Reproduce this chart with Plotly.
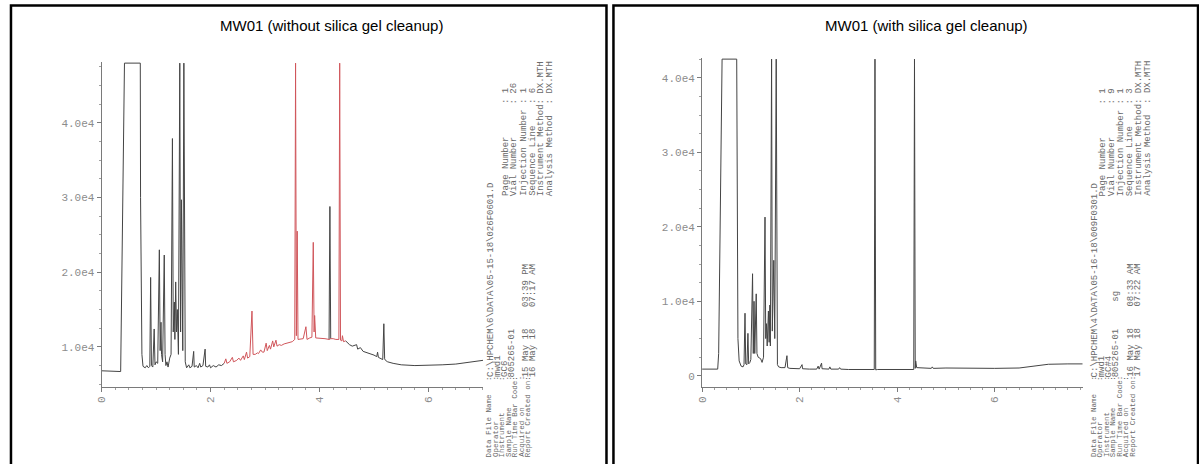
import plotly.graph_objects as go

W, H = 1199, 464

# ---------------- data ----------------
left_title = "MW01 (without silica gel cleanup)"
right_title = "MW01 (with silica gel cleanup)"

left_time = [0.00, 0.30, 0.35, 0.42, 0.71, 0.715, 0.73, 0.74, 0.76,
             0.80, 0.83, 0.86, 0.885, 0.90, 0.915, 0.94, 0.965, 0.98, 1.00, 1.03,
             1.06, 1.075, 1.09, 1.10, 1.12, 1.15, 1.165, 1.18, 1.20, 1.22, 1.25,
             1.275, 1.30, 1.315, 1.335, 1.345, 1.36, 1.375, 1.39, 1.41, 1.435,
             1.45, 1.465, 1.48, 1.49, 1.51, 1.535, 1.56, 1.60, 1.62, 1.66, 1.69,
             1.70, 1.74, 1.77, 1.80, 1.82, 1.86, 1.90, 1.91, 1.95, 1.98, 2.00,
             2.05, 2.10, 2.15, 2.20, 2.25, 2.28, 2.30, 2.35, 2.40, 2.42, 2.48,
             2.52, 2.55, 2.60, 2.62, 2.66, 2.68, 2.72, 2.76, 2.78, 2.82, 2.86,
             2.88, 2.92, 2.95, 2.98, 3.02, 3.04, 3.08, 3.10, 3.14, 3.16, 3.20,
             3.22, 3.26, 3.30, 3.35, 3.40, 3.45, 3.50, 3.545, 3.56, 3.575, 3.59,
             3.605, 3.65, 3.70, 3.75, 3.77, 3.82, 3.86, 3.885, 3.90, 3.91, 3.93,
             3.98, 4.05, 4.10, 4.175, 4.19, 4.205, 4.25, 4.30, 4.355, 4.37,
             4.385, 4.41, 4.42, 4.44, 4.48, 4.55, 4.60, 4.68, 4.70, 4.75, 4.80,
             4.90, 5.00, 5.05, 5.065, 5.08, 5.16, 5.18, 5.195, 5.21, 5.25, 5.35,
             5.50, 5.75, 6.00, 6.25, 6.50, 6.75, 7.00]
left_signal = [6800, 6650, 6700, 48000, 48000, 30000, 20000, 9000, 7400,
               7200, 7500, 7200, 7400, 19300, 7500, 7300, 12400, 7600, 8000, 7800,
               23000, 9500, 13300, 9000, 8000, 22300, 9000, 7500, 8000, 7300, 8500,
               9000, 37900, 12000, 16000, 11000, 18700, 12000, 15000, 9000, 48000,
               12000, 29700, 14000, 9500, 48000, 8000, 7200, 7600, 7200, 7400, 9400,
               7300, 7500, 7200, 7800, 7300, 7500, 9700, 7400, 7300, 7600, 7200,
               7500, 7300, 7600, 7500, 7800, 8400, 7800, 8000, 8600, 8000, 8200,
               8500, 8200, 8800, 8300, 9300, 8500, 8700, 14800, 9000, 9000, 9200,
               9100, 9600, 9300, 9300, 10500, 9500, 10200, 9700, 10800, 10000, 10900,
               10100, 10300, 10200, 10400, 10500, 10600, 10700, 11000, 48000, 11500, 25500,
               11000, 11000, 11100, 12700, 11000, 11200, 11300, 24000, 12000, 14200, 11200,
               11200, 11100, 11100, 11000, 28800, 11100, 11100, 11000, 11000, 48000,
               10900, 10800, 11500, 10700, 10800, 10300, 10100, 10300, 9700, 9900, 9400,
               9200, 8900, 8700, 9300, 8600, 8300, 13100, 8400, 8200, 8000, 7800,
               7600, 7500, 7500, 7600, 7700, 7900, 8200]
# portion of the left trace printed in red, and a peak inside it printed in black
left_red_start = 2.25
left_red_end = 4.48
left_black_peak_window = [4.175, 4.205]

right_time = [0.00, 0.32, 0.34, 0.41, 0.71, 0.72, 0.735, 0.76, 0.80, 0.84,
              0.86, 0.88, 0.895, 0.92, 0.94, 0.955, 0.98, 1.00, 1.035, 1.05,
              1.065, 1.08, 1.11, 1.125, 1.15, 1.20, 1.23, 1.26, 1.29, 1.305,
              1.32, 1.335, 1.36, 1.375, 1.39, 1.40, 1.425, 1.44, 1.47, 1.49,
              1.52, 1.545, 1.57, 1.62, 1.70, 1.74, 1.755, 1.80, 1.90, 2.00,
              2.05, 2.06, 2.20, 2.35, 2.38, 2.40, 2.45, 2.46, 2.60, 2.62, 2.64,
              2.80, 2.82, 2.84, 3.00, 3.30, 3.53, 3.545, 3.56, 3.60, 4.00, 4.34,
              4.355, 4.37, 4.38, 4.40, 4.50, 4.70, 4.72, 4.74, 5.00, 5.50, 6.00,
              6.50, 6.80, 7.10, 7.50, 7.80]
right_signal = [900, 900, 3000, 42500, 42500, 20000, 5000, 2000, 1300, 1200,
                1500, 8400, 1600, 1500, 5700, 1600, 1800, 2200, 13700, 3000,
                10000, 3000, 11000, 3000, 2500, 2300, 1800, 2500, 21300, 5000,
                7000, 4000, 8700, 4500, 9500, 4000, 42500, 6000, 15500, 5000,
                42500, 1500, 1200, 1100, 1100, 2700, 1100, 1000, 1000, 950,
                1500, 950, 900, 900, 1300, 900, 1700, 950, 900, 1200, 900,
                900, 1100, 900, 850, 850, 850, 42500, 800, 850, 850, 850,
                42500, 1000, 2000, 1100, 1050, 1000, 1200, 1000, 1050, 1000, 1000,
                1050, 1300, 1550, 1600, 1600]

x_tick_vals = [0, 2, 4, 6]
x_tick_text = ["0", "2", "4", "6"]
left_y_tick_vals = [10000, 20000, 30000, 40000]
left_y_tick_text = ["1.0e4", "2.0e4", "3.0e4", "4.0e4"]
right_y_tick_vals = [0, 10000, 20000, 30000, 40000]
right_y_tick_text = ["0", "1.0e4", "2.0e4", "3.0e4", "4.0e4"]

info_labels = ["Data File Name", "Operator", "Instrument", "Sample Name",
               "Run Time Bar Code", "Acquired on", "Report Created on"]
left_info_values = ["C:\\HPCHEM\\6\\DATA\\05-15-18\\026F0601.D", "mwd1", "GC6",
                    "805265-01", "", "15 May 18    03:39 PM", "16 May 18    07:17 AM"]
right_info_values = ["C:\\HPCHEM\\4\\DATA\\05-16-18\\009F0301.D", "mwd1", "GC#4",
                     "805265-01     sg", "", "16 May 18    08:33 AM", "17 May 18    07:22 AM"]
side_labels = ["Page Number", "Vial Number", "Injection Number", "Sequence Line",
               "Instrument Method", "Analysis Method"]
left_side_values = ["1", "26", "1", "6", "DX.MTH", "DX.MTH"]
right_side_values = ["1", "9", "1", "3", "DX.MTH", "DX.MTH"]

# ---------------- figure ----------------
BLACK = "#444444"
RED = "#d0565b"
GRAY = "#8c8c8c"
TEXT_GRAY = "#6a6a6a"
MONO = "Liberation Mono"


def px_x(x):
    return x / W


def px_y(y):
    return 1 - y / H


fig = go.Figure()

# black part of the left trace (gaps where the red overlay is drawn)
blk_t, blk_y = [], []
red_t, red_y = [], []
lo, hi = left_black_peak_window
for t, v in zip(left_time, left_signal):
    in_red = left_red_start < t < left_red_end
    in_black_peak = lo <= t <= hi
    if (not in_red) or in_black_peak:
        blk_t.append(t)
        blk_y.append(v)
    elif blk_y and blk_y[-1] is not None:
        blk_t.append(t)
        blk_y.append(None)
    if left_red_start <= t <= left_red_end and not (lo < t < hi):
        red_t.append(t)
        red_y.append(v)

fig.add_trace(go.Scatter(x=blk_t, y=blk_y, mode="lines", connectgaps=False,
                         line=dict(color=BLACK, width=1), xaxis="x", yaxis="y",
                         showlegend=False, hoverinfo="skip"))
fig.add_trace(go.Scatter(x=red_t, y=red_y, mode="lines",
                         line=dict(color=RED, width=1), xaxis="x", yaxis="y",
                         showlegend=False, hoverinfo="skip"))
fig.add_trace(go.Scatter(x=right_time, y=right_signal, mode="lines",
                         line=dict(color=BLACK, width=1), xaxis="x2", yaxis="y2",
                         showlegend=False, hoverinfo="skip"))

axis_common = dict(showline=True, linecolor="#7a7a7a", linewidth=1, ticks="outside",
                   ticklen=4, tickcolor="#7a7a7a", tickwidth=1, showgrid=False,
                   zeroline=False, fixedrange=True)
xfont = dict(family=MONO, size=11, color=GRAY)
yfont = dict(family=MONO, size=11, color=GRAY)

fig.update_layout(
    width=W, height=H,
    margin=dict(l=0, r=0, t=0, b=0),
    paper_bgcolor="white", plot_bgcolor="white",
    showlegend=False,
    xaxis=dict(domain=[px_x(97), px_x(480)], range=[0, 7.0], anchor="y",
               tickvals=x_tick_vals, ticktext=x_tick_text, tickangle=-90,
               tickfont=xfont,
               minor=dict(ticks="outside", ticklen=2, dtick=0.25, tickcolor="#a0a0a0"),
               **axis_common),
    yaxis=dict(domain=[px_y(387), px_y(62)], range=[4630, 48150], anchor="x",
               tickvals=left_y_tick_vals, ticktext=left_y_tick_text,
               tickfont=yfont,
               minor=dict(ticks="outside", ticklen=2, dtick=2500, tickcolor="#a0a0a0"),
               **axis_common),
    xaxis2=dict(domain=[px_x(700), px_x(1083)], range=[0, 7.82], anchor="y2",
                tickvals=x_tick_vals, ticktext=x_tick_text, tickangle=-90,
                tickfont=xfont,
                minor=dict(ticks="outside", ticklen=2, dtick=0.25, tickcolor="#a0a0a0"),
                **axis_common),
    yaxis2=dict(domain=[px_y(387), px_y(58)], range=[-1500, 42650], anchor="x2",
                tickvals=right_y_tick_vals, ticktext=right_y_tick_text,
                tickfont=yfont,
                minor=dict(ticks="outside", ticklen=2, dtick=2500, tickcolor="#a0a0a0"),
                **axis_common),
)

# panel frames
for x0, x1 in [(6, 604), (611, 1198)]:
    fig.add_shape(type="rect", xref="paper", yref="paper",
                  x0=px_x(x0), x1=px_x(x1), y0=px_y(H + 10), y1=px_y(5.5),
                  line=dict(color="black", width=2.5), fillcolor="rgba(0,0,0,0)")

# titles
for cx, title in [(328, left_title), (925, right_title)]:
    fig.add_annotation(x=px_x(cx), y=px_y(25), xref="paper", yref="paper",
                       text=title, showarrow=False, xanchor="center", yanchor="middle",
                       font=dict(family="Liberation Sans", size=15, color="black"))


def vtext(x_px, y_px, text, size):
    fig.add_annotation(x=px_x(x_px), y=px_y(y_px), xref="paper", yref="paper",
                       text=text.replace(" ", "\u00a0"), textangle=-90, showarrow=False,
                       xanchor="center", yanchor="bottom", borderpad=0,
                       font=dict(family=MONO, size=size, color=TEXT_GRAY))


panels = [
    dict(label_x=[486, 492.5, 499, 505.5, 512, 518.5, 525],
         value_x=[488, 495, 502, 509, 516, 523, 530],
         side_x=[503, 512, 521, 530, 539, 548],
         values=left_info_values, side_values=left_side_values),
    dict(label_x=[1093, 1099.5, 1106, 1112.5, 1119, 1125.5, 1132],
         value_x=[1095, 1102, 1109, 1116, 1123, 1130, 1137],
         side_x=[1103, 1112, 1121, 1130, 1139, 1148],
         values=right_info_values, side_values=right_side_values),
]
for p in panels:
    for lx, vx, lab, val in zip(p["label_x"], p["value_x"], info_labels, p["values"]):
        vtext(lx, 458, lab.ljust(17) + ":", 7.5)
        if val:
            vtext(vx, 378, val, 9)
    for sx, lab, val in zip(p["side_x"], side_labels, p["side_values"]):
        vtext(sx, 197, lab.ljust(17) + ": " + val, 9)

fig.write_html("out.html")
